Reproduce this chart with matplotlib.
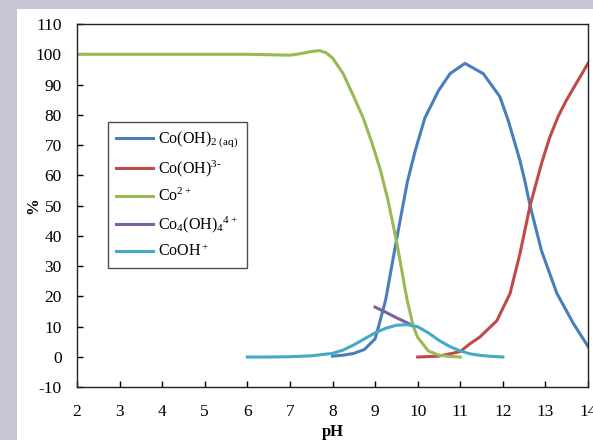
import matplotlib
matplotlib.use("Agg")
import matplotlib.pyplot as plt
from matplotlib.patches import Rectangle

plt.rcParams["font.family"] = ["Liberation Serif", "DejaVu Serif"]
plt.rcParams["mathtext.fontset"] = "custom"
plt.rcParams["mathtext.rm"] = "Liberation Serif"
plt.rcParams["mathtext.it"] = "Liberation Serif:italic"
plt.rcParams["mathtext.bf"] = "Liberation Serif:bold"
plt.rcParams["axes.unicode_minus"] = False

# Speciation of cobalt(II) vs pH (% of total Co)
ph_co2 = [2, 3, 4, 5, 6, 7.0, 7.25, 7.5, 7.7, 7.85, 8.0, 8.25, 8.5, 8.72, 8.92,
          9.12, 9.3, 9.5, 9.75, 9.9, 10.0, 10.25, 10.5, 10.75, 11.0]
co2 = [100, 100, 100, 100, 100, 99.7, 100.2, 100.9, 101.2, 100.5, 98.8, 93.6, 86, 79, 71,
       62, 52, 38.5, 19, 10, 6.5, 2, 0.6, 0.2, 0]

ph_cooh2 = [8.0, 8.25, 8.5, 8.75, 9.0, 9.1, 9.25, 9.5, 9.76, 9.94, 10.17, 10.49,
            10.76, 11.11, 11.54, 11.93, 12.13, 12.4, 12.52, 12.64, 12.91, 13.27,
            13.66, 14.0]
cooh2 = [0.3, 0.6, 1.2, 2.5, 6, 11, 19, 38.5, 58, 68, 79, 88,
         93.6, 97, 93.6, 86, 78, 65, 58, 50, 35, 21,
         11, 3.5]

ph_cooh3 = [10.0, 10.5, 11.0, 11.23, 11.46, 11.86, 12.17, 12.4, 12.64, 12.91,
            13.1, 13.3, 13.5, 13.75, 14.0]
cooh3 = [0, 0.3, 1.8, 4.4, 6.6, 12, 21, 34, 50, 64,
         72.5, 79.5, 85, 91, 97]

ph_co4 = [9.0, 9.25, 9.5, 9.8]
co4 = [16.5, 14.8, 13, 11]

ph_cooh = [6.0, 6.5, 7.0, 7.5, 8.0, 8.25, 8.5, 8.75, 9.0, 9.25, 9.5, 9.75, 10.0,
           10.25, 10.5, 10.75, 11.0, 11.25, 11.5, 11.75, 12.0]
cooh = [0, 0, 0.1, 0.4, 1.2, 2.3, 4, 6, 8, 9.5, 10.5, 10.7, 10,
        8, 5.5, 3.5, 2, 1, 0.5, 0.2, 0]

xticks = list(range(2, 15))
yticks = list(range(-10, 111, 10))

fig = plt.figure(figsize=(5.93, 4.40), dpi=100)
fig.patch.set_facecolor("#c9c4d6")
fig.add_artist(Rectangle((17 / 593, 0), 1, 431 / 440, transform=fig.transFigure,
                         facecolor="white", edgecolor="none", zorder=0))

ax = fig.add_axes([77 / 593, 1 - 387.3 / 440, 511 / 593, 363.3 / 440])
ax.set_facecolor("white")

lw = 2.2
ax.plot(ph_cooh2, cooh2, color="#4a7ebb", lw=lw, label=r"Co(OH)$_{2\ \mathregular{(aq)}}$")
ax.plot(ph_cooh3, cooh3, color="#be4b48", lw=lw, label=r"Co(OH)$^{3\text{-}}$")
ax.plot(ph_co2, co2, color="#98b954", lw=lw, label=r"Co$^{2+}$")
ax.plot(ph_co4, co4, color="#7d60a0", lw=lw, label=r"Co$_4$(OH)$_4$$^{4+}$")
ax.plot(ph_cooh, cooh, color="#46aac5", lw=lw, label=r"CoOH$^+$")

ax.set_xlim(2, 14)
ax.set_ylim(-10, 110)
ax.set_xticks(xticks)
ax.set_yticks(yticks)
ax.tick_params(direction="in", length=4, width=1, labelsize=12.5)
ax.tick_params(axis="x", pad=12)
ax.tick_params(axis="y", pad=11)
for s in ax.spines.values():
    s.set_linewidth(1.0)
    s.set_color("#222222")

ax.set_xlabel("pH", fontsize=12, fontweight="bold", labelpad=3)
ax.set_ylabel("%", fontsize=12, fontweight="bold", labelpad=-4)

leg = ax.legend(loc="upper left", bbox_to_anchor=(31 / 511, 265.3 / 363.3),
                fontsize=11.5, frameon=True, fancybox=False, handlelength=2.3,
                handletextpad=0.35, labelspacing=0.55, borderpad=0.5,
                borderaxespad=0)
leg.get_frame().set_edgecolor("#222222")
leg.get_frame().set_linewidth(1.0)

fig.savefig("out.png", dpi=100, facecolor=fig.get_facecolor())
